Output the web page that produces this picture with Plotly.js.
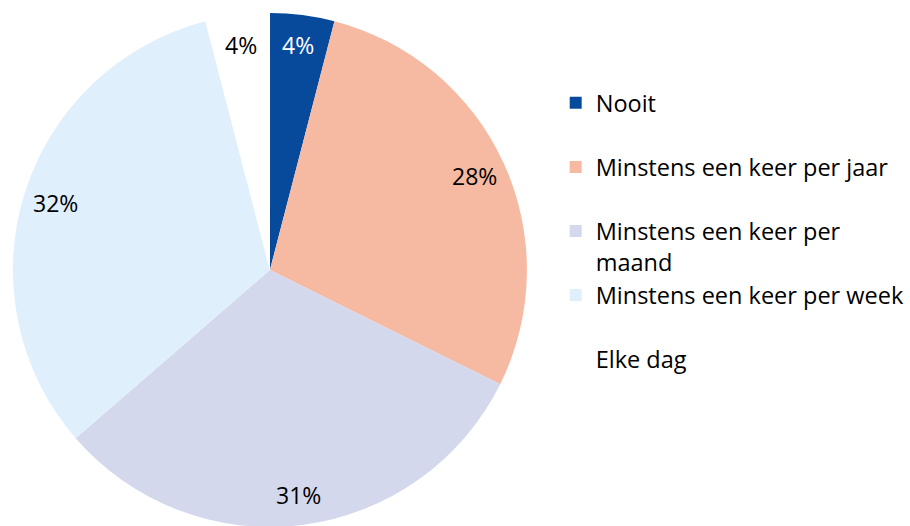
<!DOCTYPE html>
<html>
<head>
<meta charset="utf-8">
<script src="https://cdn.plot.ly/plotly-3.0.1.min.js"></script>
<style>
html,body{margin:0;padding:0;background:#fff;overflow:hidden;}
#chart{width:910px;height:540px;}
</style>
</head>
<body>
<div id="chart"></div>
<script>
const categories = ["Nooit", "Minstens een keer per jaar", "Minstens een keer per maand", "Minstens een keer per week", "Elke dag"];
const legendLabels = ["Nooit<br>&nbsp;", "Minstens een keer per jaar<br>&nbsp;", "Minstens een keer per<br>maand", "Minstens een keer per week<br>&nbsp;", "Elke dag<br>&nbsp;"];
const values = [4, 28, 31, 32, 4];
const colors = ["#074a9c", "#f6b9a2", "#d4d8ed", "#dfeffb", "#ffffff"];
const textColors = ["#ffffff", "#000000", "#000000", "#000000", "#000000"];

const FONT = "'Open Sans', sans-serif";
const W = 910, H = 540;
const CX = 272, CY = 270, R = 259;   // pie centre / radius in pixels
const LABEL_R = 0.875;               // data labels sit at this fraction of the radius

const trace = {
  type: "pie",
  labels: legendLabels,
  values: values,
  customdata: categories,
  sort: false,
  direction: "clockwise",
  rotation: 0,
  marker: {colors: colors, line: {width: 0}},
  textinfo: "none",
  hovertemplate: "%{customdata}: %{value}%<extra></extra>",
  domain: {x: [(CX - R) / W, (CX + R) / W], y: [1 - (CY + R) / H, 1 - (CY - R) / H]}
};

// data labels placed at the middle angle of each slice, computed from the values
const total = values.reduce((a, b) => a + b, 0);
let cum = 0;
const annotations = values.map((v, i) => {
  const mid = (cum + v / 2) / total * 2 * Math.PI;
  cum += v;
  const px = CX + LABEL_R * R * Math.sin(mid);
  const py = CY - LABEL_R * R * Math.cos(mid);
  return {
    x: px / W, y: 1 - py / H, xref: "paper", yref: "paper",
    text: v + "%", showarrow: false,
    xanchor: "center", yanchor: "middle",
    font: {family: FONT, size: 23, color: textColors[i]}
  };
});

const layout = {
  width: W,
  height: H,
  margin: {l: 0, r: 0, t: 0, b: 0},
  paper_bgcolor: "#ffffff",
  showlegend: true,
  legend: {
    x: 560 / W,
    xanchor: "left",
    y: 1 - 81 / H,
    yanchor: "top",
    valign: "top",
    font: {family: FONT, size: 23.5, color: "#000000"},
    bgcolor: "rgba(0,0,0,0)"
  },
  annotations: annotations,
  font: {family: FONT}
};

Plotly.newPlot("chart", [trace], layout, {displayModeBar: false, staticPlot: true});
</script>
</body>
</html>
